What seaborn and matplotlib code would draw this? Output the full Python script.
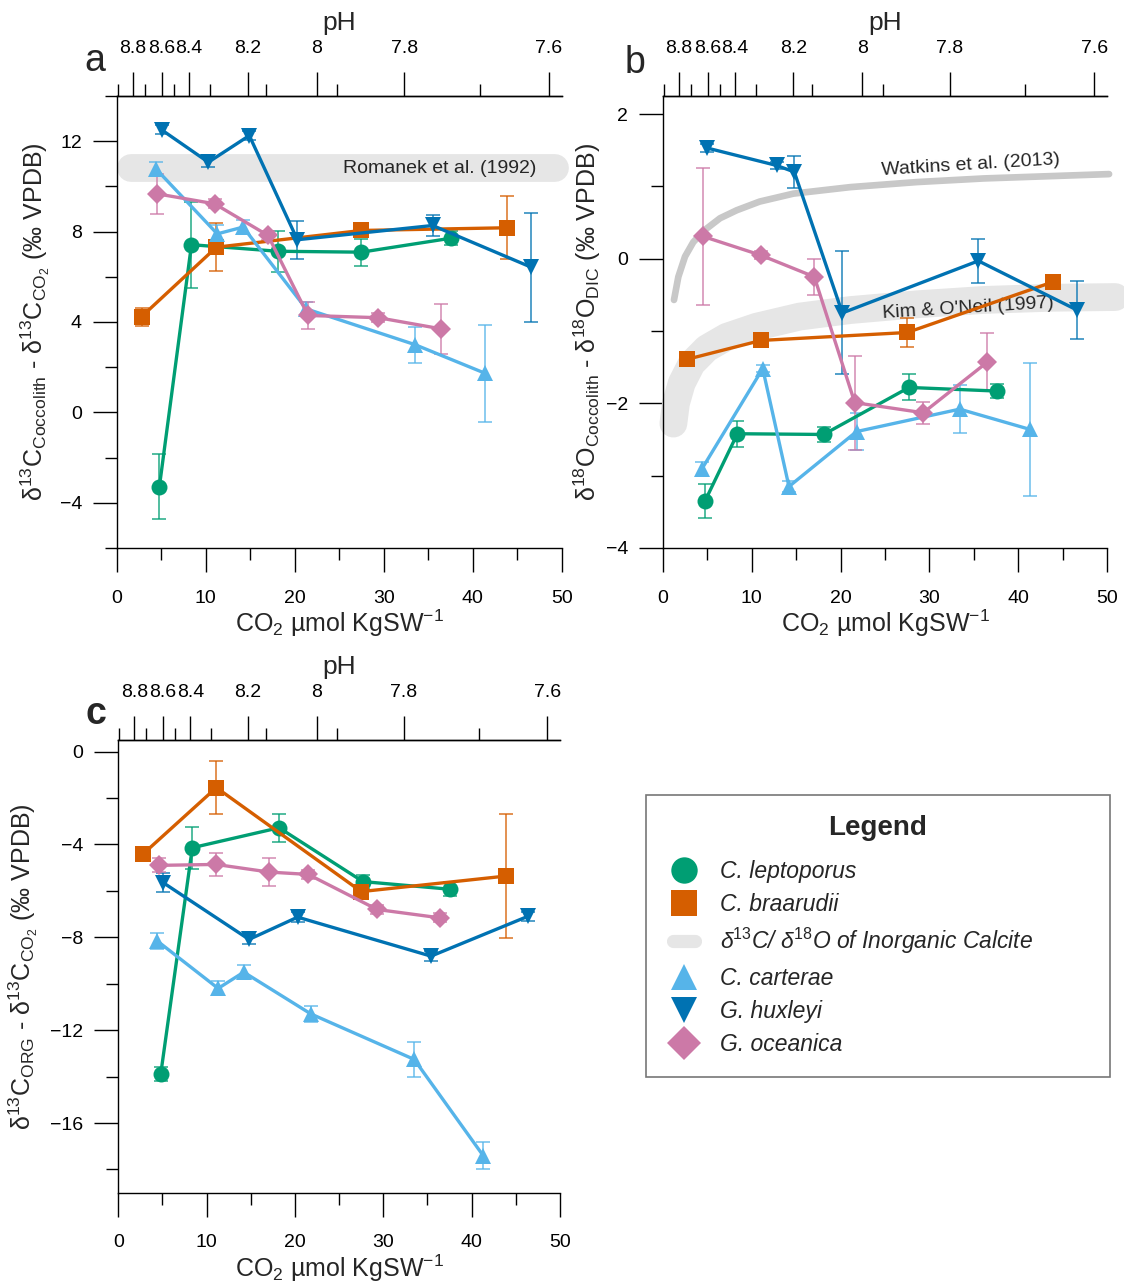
import numpy as np
import matplotlib
matplotlib.use("Agg")
import matplotlib.pyplot as plt
import seaborn as sns
from matplotlib.lines import Line2D
from matplotlib.ticker import MultipleLocator

# ---------------- data ----------------
species = ["C. leptoporus", "C. braarudii", "C. carterae", "G. huxleyi", "G. oceanica"]
calcite_label = r"δ$^{\mathit{13}}$C/ δ$^{\mathit{18}}$O of Inorganic Calcite"

# pH top axis: tick labels and their CO2 positions
ph_major_labels = ["8.8", "8.6", "8.4", "8.2", "8", "7.8", "7.6"]
ph_major_co2 = [1.8, 5.05, 8.15, 14.7, 22.45, 32.3, 48.55]
ph_minor_co2 = [0.13, 3.15, 6.4, 10.5, 16.75, 24.75, 40.8]

# Panel a: d13C coccolith - d13C CO2
a_lep_x = [4.8, 8.4, 18.1, 27.5, 37.6]
a_lep_y = [-3.28, 7.42, 7.13, 7.09, 7.71]
a_lep_e = [1.45, 1.9, 0.9, 0.6, 0.3]
a_bra_x = [2.8, 11.2, 27.5, 43.9]
a_bra_y = [4.24, 7.31, 8.05, 8.17]
a_bra_e = [0.4, 1.05, 0.3, 1.4]
a_car_x = [4.4, 11.3, 14.2, 21.3, 33.5, 41.4]
a_car_y = [10.78, 7.9, 8.2, 4.58, 3.0, 1.73]
a_car_e = [0.3, 0.4, 0.3, 0.3, 0.8, 2.15]
a_hux_x = [5.06, 10.3, 14.9, 20.3, 35.5, 46.6]
a_hux_y = [12.5, 11.07, 12.25, 7.64, 8.27, 6.42]
a_hux_e = [0.2, 0.2, 0.2, 0.85, 0.45, 2.4]
a_oce_x = [4.57, 11.0, 17.0, 21.5, 29.4, 36.4]
a_oce_y = [9.67, 9.23, 7.83, 4.29, 4.19, 3.70]
a_oce_e = [0.9, 0.2, 0.2, 0.6, 0.2, 1.1]
romanek_x = [1.65, 49.3]
romanek_y = [10.8, 10.8]

# Panel b: d18O coccolith - d18O DIC
b_lep_x = [4.76, 8.4, 18.1, 27.7, 37.6]
b_lep_y = [-3.35, -2.42, -2.43, -1.78, -1.83]
b_lep_e = [0.23, 0.18, 0.1, 0.18, 0.1]
b_bra_x = [2.77, 11.06, 27.5, 43.9]
b_bra_y = [-1.39, -1.13, -1.02, -0.32]
b_bra_e = [0.08, 0.08, 0.2, 0.08]
b_car_x = [4.39, 11.25, 14.2, 21.8, 33.4, 41.3]
b_car_y = [-2.91, -1.52, -3.15, -2.39, -2.08, -2.36]
b_car_e = [0.1, 0.05, 0.08, 0.25, 0.33, 0.92]
b_hux_x = [5.02, 12.8, 14.8, 20.2, 35.5, 46.6]
b_hux_y = [1.53, 1.29, 1.2, -0.75, -0.03, -0.71]
b_hux_e = [0.05, 0.05, 0.22, 0.85, 0.3, 0.4]
b_oce_x = [4.5, 11.0, 17.05, 21.6, 29.3, 36.5]
b_oce_y = [0.31, 0.05, -0.25, -1.99, -2.13, -1.43]
b_oce_e = [0.95, 0.05, 0.25, 0.65, 0.15, 0.4]
watkins_x = [1.27, 1.76, 2.51, 3.44, 4.76, 6.45, 8.32, 10.9, 14.7, 21.1, 28.6, 36.1, 50.2]
watkins_y = [-0.57, -0.25, 0.03, 0.23, 0.40, 0.56, 0.67, 0.79, 0.90, 0.99, 1.06, 1.11, 1.17]
kim_x = [1.2, 1.49, 2.14, 3.26, 4.95, 7.2, 10.57, 15.4, 21.1, 28.6, 36.1, 43.6, 50.9]
kim_y = [-2.28, -2.0, -1.72, -1.45, -1.24, -1.08, -0.94, -0.80, -0.71, -0.63, -0.57, -0.54, -0.53]

# Panel c: d13C org - d13C CO2
c_lep_x = [4.8, 8.38, 18.2, 27.7, 37.6]
c_lep_y = [-13.9, -4.14, -3.28, -5.6, -5.93]
c_lep_e = [0.3, 0.9, 0.6, 0.3, 0.3]
c_bra_x = [2.83, 11.1, 27.5, 43.9]
c_bra_y = [-4.4, -1.55, -6.03, -5.36]
c_bra_e = [0.3, 1.15, 0.3, 2.66]
c_car_x = [4.42, 11.3, 14.2, 21.8, 33.5, 41.3]
c_car_y = [-8.16, -10.2, -9.5, -11.3, -13.26, -17.4]
c_car_e = [0.35, 0.3, 0.3, 0.35, 0.75, 0.6]
c_hux_x = [5.1, 14.8, 20.3, 35.4, 46.4]
c_hux_y = [-5.65, -8.09, -7.13, -8.81, -7.09]
c_hux_e = [0.4, 0.2, 0.2, 0.2, 0.2]
c_oce_x = [4.64, 11.06, 17.1, 21.5, 29.3, 36.4]
c_oce_y = [-4.9, -4.86, -5.19, -5.29, -6.8, -7.16]
c_oce_e = [0.3, 0.5, 0.6, 0.2, 0.2, 0.2]

# ---------------- style ----------------
sns.set_theme(style="ticks")
plt.rcParams["font.family"] = ["Liberation Sans", "DejaVu Sans"]
plt.rcParams["mathtext.fontset"] = "custom"
plt.rcParams["mathtext.rm"] = "Liberation Sans"
plt.rcParams["mathtext.it"] = "Liberation Sans:italic"
plt.rcParams["mathtext.bf"] = "Liberation Sans:bold"
plt.rcParams["axes.edgecolor"] = "black"
plt.rcParams["xtick.color"] = "black"
plt.rcParams["ytick.color"] = "black"

colors = ["#009E73", "#D55E00", "#56B4E9", "#0072B2", "#CC79A7"]
markers = ["o", "s", "^", "v", "D"]
msizes = [11.5, 11.5, 11.5, 11.5, 10]
band_color = "#e6e6e6"

W, H = 1124, 1285
fig = plt.figure(figsize=(W / 100, H / 100), dpi=100)

def fx(px):
    return px / W

def fy(py):
    return 1 - py / H

ax_a = fig.add_axes([fx(116.7), fy(548), fx(561.7) - fx(116.7), (548 - 96) / H])
ax_b = fig.add_axes([fx(662.7), fy(548), fx(1107.3) - fx(662.7), (548 - 96) / H])
ax_c = fig.add_axes([fx(118.3), fy(1192.7), fx(560) - fx(118.3), (1192.7 - 740) / H])

TICK = 14
LAB = 18

def setup(ax, ylim, ymaj, ymin, ylabel, ylab_x):
    ax.set_xlim(0, 50)
    ax.set_ylim(*ylim)
    ax.xaxis.set_major_locator(MultipleLocator(10))
    ax.xaxis.set_minor_locator(MultipleLocator(5))
    ax.yaxis.set_major_locator(MultipleLocator(ymaj))
    ax.yaxis.set_minor_locator(MultipleLocator(ymin))
    ax.tick_params(which="major", length=17, width=1, direction="out",
                   labelsize=TICK, bottom=True, left=True, top=False, right=False)
    ax.tick_params(axis="x", which="major", pad=13)
    ax.tick_params(axis="y", which="major", pad=8)
    ax.tick_params(which="minor", length=8.5, width=1, direction="out",
                   bottom=True, left=True, top=False, right=False)
    for s in ["left", "bottom", "top"]:
        ax.spines[s].set_linewidth(1)
        ax.spines[s].set_color("black")
    ax.spines["right"].set_visible(False)
    ax.set_xlabel("CO$_2$ µmol KgSW$^{-1}$", fontsize=LAB, labelpad=1)
    ax.set_ylabel(ylabel, fontsize=LAB)
    ax.yaxis.set_label_coords(ylab_x, 0.5)
    top = ax.twiny()
    top.set_xlim(0, 50)
    top.set_xticks(ph_major_co2)
    top.set_xticklabels(ph_major_labels)
    top.set_xticks(ph_minor_co2, minor=True)
    top.tick_params(axis="x", which="major", length=17, width=1, direction="out",
                    labelsize=TICK, pad=11, top=True, bottom=False)
    top.tick_params(axis="x", which="minor", length=8.5, width=1, direction="out",
                    top=True, bottom=False)
    for s in ["left", "bottom", "right"]:
        top.spines[s].set_visible(False)
    top.spines["top"].set_linewidth(1)
    top.set_xlabel("pH", fontsize=19, labelpad=7)
    return top

def draw(ax, x, y, e, i):
    x = np.asarray(x, float)
    y = np.asarray(y, float)
    e = np.asarray(e, float)
    m = e > 0
    ax.errorbar(x[m], y[m], yerr=e[m], fmt="none", ecolor=colors[i],
                elinewidth=1.2, capsize=5, capthick=1.2, alpha=0.8, zorder=3)
    sns.lineplot(x=x, y=y, ax=ax, color=colors[i], marker=markers[i],
                 markersize=msizes[i], markeredgewidth=0, linewidth=2.4,
                 sort=False, estimator=None, legend=False, zorder=4)

# panel a
setup(ax_a, (-6, 14), 4, 2,
      "δ$^{13}$C$_{\\mathrm{Coccolith}}$ - δ$^{13}$C$_{\\mathrm{CO_2}}$ (‰ VPDB)", -0.145)
ax_a.plot(romanek_x, romanek_y, color=band_color, lw=20, solid_capstyle="round",
          zorder=1, clip_on=False)
ax_a.text(36.3, 10.78, "Romanek et al. (1992)", fontsize=14, ha="center", va="center", zorder=2)
for i, (x, y, e) in enumerate([(a_lep_x, a_lep_y, a_lep_e), (a_bra_x, a_bra_y, a_bra_e),
                               (a_car_x, a_car_y, a_car_e), (a_hux_x, a_hux_y, a_hux_e),
                               (a_oce_x, a_oce_y, a_oce_e)]):
    draw(ax_a, x, y, e, i)

# panel b
setup(ax_b, (-4, 2.25), 2, 1,
      "δ$^{18}$O$_{\\mathrm{Coccolith}}$ - δ$^{18}$O$_{\\mathrm{DIC}}$ (‰ VPDB)", -0.134)
ax_b.plot(kim_x, kim_y, color=band_color, lw=20, solid_capstyle="round",
          solid_joinstyle="round", zorder=1, clip_on=False)
ax_b.plot(watkins_x, watkins_y, color="#c8c8c8", lw=4.8, solid_capstyle="round",
          solid_joinstyle="round", zorder=1, clip_on=False)
ax_b.text(34.6, 1.29, "Watkins et al. (2013)", fontsize=14, ha="center", va="center",
          rotation=3.5, zorder=2)
ax_b.text(34.4, -0.69, "Kim & O'Neil (1997)", fontsize=14, ha="center", va="center",
          rotation=3.5, zorder=2)
for i, (x, y, e) in enumerate([(b_lep_x, b_lep_y, b_lep_e), (b_bra_x, b_bra_y, b_bra_e),
                               (b_car_x, b_car_y, b_car_e), (b_hux_x, b_hux_y, b_hux_e),
                               (b_oce_x, b_oce_y, b_oce_e)]):
    draw(ax_b, x, y, e, i)

# panel c
setup(ax_c, (-19, 0.5), 4, 2,
      "δ$^{13}$C$_{\\mathrm{ORG}}$ - δ$^{13}$C$_{\\mathrm{CO_2}}$ (‰ VPDB)", -0.177)
for i, (x, y, e) in enumerate([(c_lep_x, c_lep_y, c_lep_e), (c_bra_x, c_bra_y, c_bra_e),
                               (c_car_x, c_car_y, c_car_e), (c_hux_x, c_hux_y, c_hux_e),
                               (c_oce_x, c_oce_y, c_oce_e)]):
    draw(ax_c, x, y, e, i)

# panel letters
fig.text(fx(95), fy(61), "a", fontsize=27, ha="center", va="center")
fig.text(fx(635), fy(63), "b", fontsize=27, ha="center", va="center")
fig.text(fx(96), fy(714), "c", fontsize=27, ha="center", va="center", fontweight="bold")

# legend
class StadiumHandler:
    def legend_artist(self, legend, orig_handle, fontsize, handlebox):
        w, h = handlebox.width, handlebox.height
        x0, y0 = handlebox.xdescent, handlebox.ydescent
        cx, cy = x0 + w / 2, y0 + h / 2
        ln = Line2D([cx - 8, cx + 8], [cy, cy], color=orig_handle.get_color(),
                    lw=9.5, solid_capstyle="round")
        handlebox.add_artist(ln)
        return ln

def mk(i):
    return Line2D([0], [0], color=colors[i], marker=markers[i], linestyle="none",
                  markersize=19 if markers[i] != "D" else 17, markeredgewidth=0)

calcite_handle = Line2D([0], [0], color=band_color, lw=9.5)
handles = [mk(0), mk(1), calcite_handle, mk(2), mk(3), mk(4)]
labels = [species[0], species[1], calcite_label, species[2], species[3], species[4]]
x0, x1 = fx(646), fx(1110)
leg = fig.legend(handles, labels, loc="upper left",
                 bbox_to_anchor=(x0, fy(795), x1 - x0, 0.0001), mode="expand",
                 title="Legend", title_fontproperties={"weight": "bold", "size": 20},
                 prop={"style": "italic", "size": 16.5}, frameon=True, fancybox=False,
                 edgecolor="#555555", borderpad=0.9, labelspacing=0.45,
                 handlelength=1.5, handletextpad=0.85, borderaxespad=0, numpoints=1,
                 handler_map={calcite_handle: StadiumHandler()})
leg.get_frame().set_linewidth(1.2)
leg._legend_box.sep = 13

fig.savefig("out.png", dpi=100)
